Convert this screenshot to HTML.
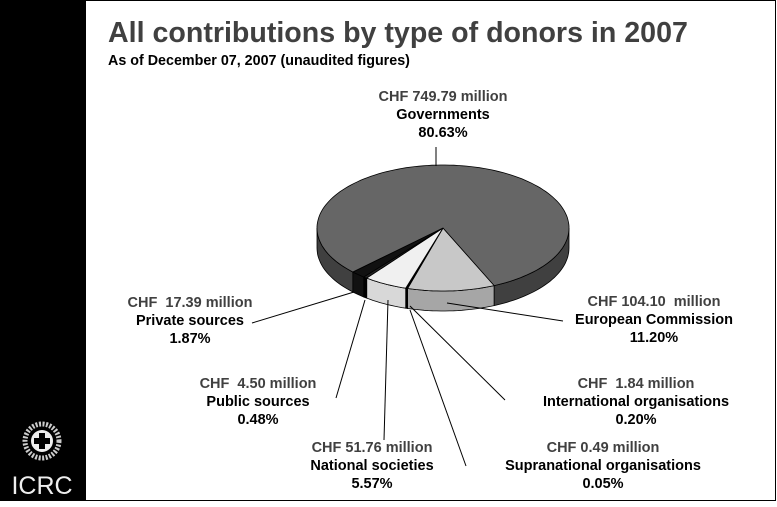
<!DOCTYPE html>
<html><head><meta charset="utf-8"><style>
body{margin:0;background:#fff}
svg{display:block;font-family:"Liberation Sans",sans-serif}
</style></head><body>
<svg width="777" height="507" viewBox="0 0 777 507">
<rect x="0" y="0" width="777" height="507" fill="#fff"/>
<rect x="0" y="0" width="86" height="501" fill="#000"/>
<line x1="86" y1="500.5" x2="776" y2="500.5" stroke="#000"/>
<line x1="775.5" y1="0" x2="775.5" y2="501" stroke="#000"/>
<line x1="86" y1="0.5" x2="776" y2="0.5" stroke="#000"/>
<g>
<circle cx="42" cy="441" r="17" fill="none" stroke="#ccc" stroke-width="5" stroke-dasharray="2 1.5"/>
<circle cx="42" cy="441" r="11" fill="#eee"/>
<rect x="39" y="433" width="6" height="16" fill="#000"/><rect x="34" y="438" width="16" height="6" fill="#000"/>
<text x="42" y="494" fill="#eee" font-size="25" text-anchor="middle">ICRC</text>
</g>
<text x="108" y="42" font-size="28.6" font-weight="bold" fill="#404040">All contributions by type of donors in 2007</text>
<text x="108" y="65" font-size="14.3" font-weight="bold" fill="#000">As of December 07, 2007 (unaudited figures)</text>
<g id="pie"></g>
<g id="lines"></g>
<g id="labels"></g>
</svg>
<script>
const categories=["European Commission","International organisations","Supranational organisations","National societies","Public sources","Private sources","Governments"];
const amounts=["CHF 104.10  million","CHF  1.84 million","CHF 0.49 million","CHF 51.76 million","CHF  4.50 million","CHF  17.39 million","CHF 749.79 million"];
const percents=[11.20,0.20,0.05,5.57,0.48,1.87,80.63];
const topColors=["#c8c8c8","#000","#000","#f0f0f0","#222","#111","#666"];
const sideColors=["#a6a6a6","#000","#000","#d8d8d8","#000","#111","#404040"];
const cx=443,cy=228,rx=126,ry=63,depth=20,start=66;
const NS="http://www.w3.org/2000/svg";
const pie=document.getElementById('pie');
function pt(a,dy){const r=a*Math.PI/180;return [cx+rx*Math.cos(r),cy+ry*Math.sin(r)+(dy||0)];}
let angs=[],a=start;
percents.forEach(p=>{angs.push([a,a+p*3.6]);a+=p*3.6;});
function arcPts(a1,a2,dy){const n=Math.max(2,Math.ceil((a2-a1)/2));const out=[];for(let i=0;i<=n;i++)out.push(pt(a1+(a2-a1)*i/n,dy));return out;}
angs.forEach(([a1,a2],i)=>{
  for(const off of [0,360]){
    const s=Math.max(a1,off),e=Math.min(a2,off+180);
    if(e>s){
      const top=arcPts(s,e,0),bot=arcPts(s,e,depth).reverse();
      const p=document.createElementNS(NS,'path');
      p.setAttribute('d','M'+top.concat(bot).map(q=>q[0].toFixed(1)+','+q[1].toFixed(1)).join('L')+'Z');
      p.setAttribute('fill',sideColors[i]);p.setAttribute('stroke','#000');p.setAttribute('stroke-width','0.8');
      
      
      pie.appendChild(p);
    }
  }
});
angs.forEach(([a1,a2],i)=>{
  const pts=[[cx,cy]].concat(arcPts(a1,a2,0));
  const p=document.createElementNS(NS,'path');
  p.setAttribute('d','M'+pts.map(q=>q[0].toFixed(1)+','+q[1].toFixed(1)).join('L')+'Z');
  p.setAttribute('fill',topColors[i]);p.setAttribute('stroke','#000');p.setAttribute('stroke-width','0.8');
  
  
  pie.appendChild(p);
});
const labelPos=[[654,306],[636,388],[603,452],[372,452],[258,388],[190,307],[443,101]];
const lineSeg=[[[563,321],[447,303]],[[505,400],[410,306]],[[466,466],[410,310]],[[384,440],[388,300]],[[336,398],[365,300]],[[252,323],[354,292]],[[436,147],[436,166]]];
const lg=document.getElementById('lines');
lineSeg.forEach((s,i)=>{
  const l=document.createElementNS(NS,'line');
  l.setAttribute('x1',s[0][0]);l.setAttribute('y1',s[0][1]);l.setAttribute('x2',s[1][0]);l.setAttribute('y2',s[1][1]);
  l.setAttribute('stroke','#000');l.setAttribute('stroke-width','1');
  
  
  lg.appendChild(l);
});
const lb=document.getElementById('labels');
labelPos.forEach((p,i)=>{
  const rows=[[amounts[i],'#404040'],[categories[i],'#000'],[percents[i].toFixed(2)+'%','#000']];
  rows.forEach((r,j)=>{
    const t=document.createElementNS(NS,'text');
    t.setAttribute('x',p[0]);t.setAttribute('y',p[1]+j*18);
    t.setAttribute('text-anchor','middle');t.setAttribute('font-size','14.5');t.setAttribute('font-weight','bold');
    t.setAttribute('fill',r[1]);t.setAttribute('style','white-space:pre');
    t.textContent=r[0];
    
    
    lb.appendChild(t);
  });
});
</script>
</body></html>
